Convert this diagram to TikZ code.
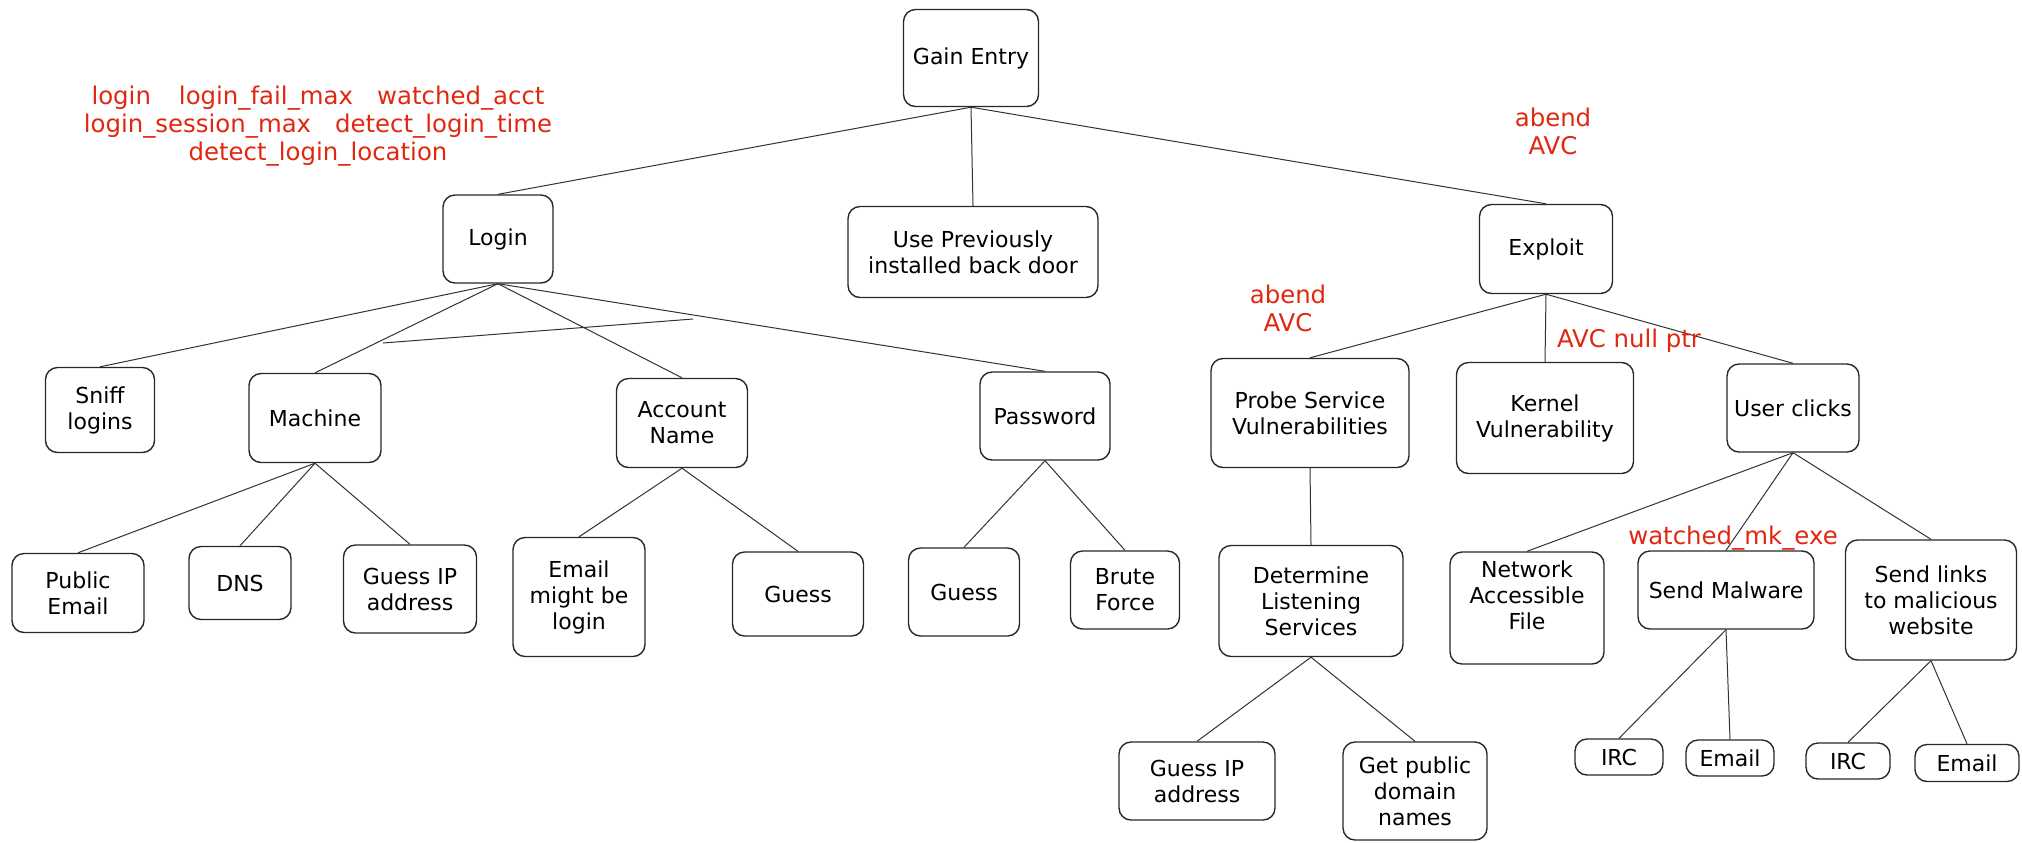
\documentclass[tikz,border=0pt]{standalone}
\usepackage{fontspec}
\setmainfont{DejaVu Sans}
\definecolor{annot}{RGB}{224,40,16}
\definecolor{boxline}{RGB}{40,40,40}
\begin{document}
\begin{tikzpicture}[x=0.5pt,y=-0.5pt,
  box/.style 2 args={draw=boxline, line width=0.7pt, rounded corners=6pt,
    align=center, inner sep=0pt, font=\fontsize{11}{13}\selectfont,
    minimum width=#1*0.5pt, minimum height=#2*0.5pt},
  edge/.style={draw=black!80, line width=0.5pt},
  note/.style={text=annot, align=center, inner sep=0pt, font=\fontsize{12.2}{14}\selectfont}]
\fill[white] (0,0) rectangle (2022,842);
\useasboundingbox (0,0) rectangle (2022,842);

% level 0
\node[box={135}{97}] (ge) at (971,58) {Gain Entry};
% level 1
\node[box={110}{88}] (login) at (498,239) {Login};
\node[box={250}{91}] (upbd) at (973,252) {Use Previously\\installed back door};
\node[box={133}{89}] (exploit) at (1546,249) {Exploit};
% level 2
\node[box={109}{85}] (sniff) at (100,410) {Sniff\\logins};
\node[box={132}{89}] (machine) at (315,418) {Machine};
\node[box={131}{89}] (acct) at (682,423) {Account\\Name};
\node[box={130}{88}] (pwd) at (1045,416) {Password};
\node[box={198}{109}] (probe) at (1310,413) {Probe Service\\Vulnerabilities};
\node[box={177}{111}] (kernel) at (1545,418) {Kernel\\Vulnerability};
\node[box={132}{88}] (uclicks) at (1793,408) {User clicks};
% level 3
\node[box={132}{79}] (pubemail) at (78,593) {Public\\Email};
\node[box={102}{73}] (dns) at (240,583) {DNS};
\node[box={133}{88}] (gip1) at (410,589) {Guess IP\\address};
\node[box={132}{119}] (emlog) at (579,597) {Email\\might be\\login};
\node[box={131}{84}] (guess1) at (798,594) {Guess};
\node[box={111}{88}] (guess2) at (964,592) {Guess};
\node[box={109}{78}] (brute) at (1125,590) {Brute\\Force};
\node[box={184}{111}] (determ) at (1311,601) {Determine\\Listening\\Services};
\node[box={154}{112}] (netfile) at (1527,608) {Network\\Accessible\\File\\\mbox{}};
\node[box={176}{78}] (sendmal) at (1726,590) {Send Malware};
\node[box={171}{120}] (sendlinks) at (1931,600) {Send links\\to malicious\\website};
% level 4
\node[box={156}{78}] (gip2) at (1197,781) {Guess IP\\address};
\node[box={144}{98}] (getpub) at (1415,791) {Get public\\domain\\names};
\node[box={88}{36}] (irc1) at (1619,757) {IRC};
\node[box={88}{36}] (email1) at (1730,758) {Email};
\node[box={84}{36}] (irc2) at (1848,761) {IRC};
\node[box={104}{37}] (email2) at (1967,763) {Email};

% connectors
\draw[edge] (ge.south) -- (login.north);
\draw[edge] (ge.south) -- (upbd.north);
\draw[edge] (ge.south) -- (exploit.north);
\draw[edge] (login.south) -- (sniff.north);
\draw[edge] (login.south) -- (machine.north);
\draw[edge] (login.south) -- (acct.north);
\draw[edge] (login.south) -- (pwd.north);
\coordinate (s1) at (383,343);
\coordinate (s2) at (693,319);
\draw[edge] (s1) -- (s2);
\draw[edge] (machine.south) -- (pubemail.north);
\draw[edge] (machine.south) -- (dns.north);
\draw[edge] (machine.south) -- (gip1.north);
\draw[edge] (acct.south) -- (emlog.north);
\draw[edge] (acct.south) -- (guess1.north);
\draw[edge] (pwd.south) -- (guess2.north);
\draw[edge] (pwd.south) -- (brute.north);
\draw[edge] (exploit.south) -- (probe.north);
\draw[edge] (exploit.south) -- (kernel.north);
\draw[edge] (exploit.south) -- (uclicks.north);
\draw[edge] (probe.south) -- (determ.north);
\draw[edge] (determ.south) -- (gip2.north);
\draw[edge] (determ.south) -- (getpub.north);
\draw[edge] (uclicks.south) -- (netfile.north);
\draw[edge] (uclicks.south) -- (sendmal.north);
\draw[edge] (uclicks.south) -- (sendlinks.north);
\draw[edge] (sendmal.south) -- (irc1.north);
\draw[edge] (sendmal.south) -- (email1.north);
\draw[edge] (sendlinks.south) -- (irc2.north);
\draw[edge] (sendlinks.south) -- (email2.north);

% annotations
\node[note] (nlogin) at (318,126) {login\hspace{14pt}login\_fail\_max\hspace{12pt}watched\_acct\\login\_session\_max\hspace{12pt}detect\_login\_time\\detect\_login\_location};
\node[note] (nabend1) at (1553,131) {abend\\AVC};
\node[note] (nabend2) at (1288,308) {abend\\AVC};
\node[note, anchor=base] (navc) at (1629,347) {AVC null ptr};
\node[note, anchor=base] (nwmk) at (1733,544) {watched\_mk\_exe};
\end{tikzpicture}
\end{document}
